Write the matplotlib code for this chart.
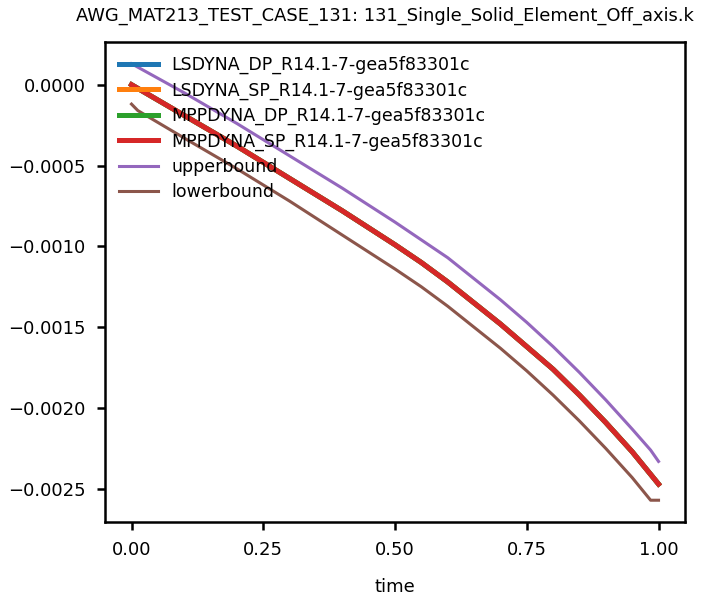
import matplotlib
matplotlib.use("Agg")
import matplotlib.pyplot as plt

# solver results (all four runs essentially identical)
time = [0.0, 0.1, 0.2, 0.3, 0.4, 0.5, 0.55, 0.6, 0.65, 0.7, 0.75, 0.8, 0.85, 0.9, 0.95, 1.0]
ls_dp = [0.0, -0.00019, -0.00038, -0.00058, -0.00078, -0.00099, -0.00110,
         -0.00122, -0.00135, -0.00148, -0.00162, -0.00176, -0.00192,
         -0.00209, -0.00227, -0.00247]
ls_sp = list(ls_dp)
mpp_dp = list(ls_dp)
mpp_sp = list(ls_dp)

# bounds
ub_time = [0.0, 0.1, 0.2, 0.3, 0.4, 0.5, 0.55, 0.6, 0.65, 0.7, 0.75, 0.8, 0.85,
           0.9, 0.95, 0.985, 1.0]
upper = [0.00013, -0.00005, -0.00024, -0.00044, -0.00064, -0.00085, -0.00096,
         -0.00107, -0.00120, -0.00133, -0.00147, -0.00162, -0.00178,
         -0.00195, -0.00213, -0.00226, -0.00233]
lb_time = [0.0, 0.012, 0.1, 0.2, 0.3, 0.4, 0.5, 0.55, 0.6, 0.65, 0.7, 0.75, 0.8,
           0.85, 0.9, 0.95, 0.985, 1.0]
lower = [-0.00012, -0.00016, -0.00033, -0.00052, -0.00072, -0.00093, -0.00114,
         -0.00125, -0.00137, -0.00150, -0.00163, -0.00177, -0.00192, -0.00208,
         -0.00225, -0.00243, -0.00257, -0.00257]

labels = ["LSDYNA_DP_R14.1-7-gea5f83301c", "LSDYNA_SP_R14.1-7-gea5f83301c",
          "MPPDYNA_DP_R14.1-7-gea5f83301c", "MPPDYNA_SP_R14.1-7-gea5f83301c"]

fig = plt.figure(figsize=(7.01, 5.98), dpi=100)
ax = fig.add_axes([0.150, 0.127, 0.827, 0.803])

ax.plot(time, ls_dp, color="tab:blue", lw=3.6, label=labels[0])
ax.plot(time, ls_sp, color="tab:orange", lw=3.6, label=labels[1])
ax.plot(time, mpp_dp, color="tab:green", lw=3.6, label=labels[2])
ax.plot(time, mpp_sp, color="tab:red", lw=3.6, label=labels[3])
ax.plot(ub_time, upper, color="tab:purple", lw=2.2, label="upperbound")
ax.plot(lb_time, lower, color="tab:brown", lw=2.2, label="lowerbound")

ax.set_title("AWG_MAT213_TEST_CASE_131: 131_Single_Solid_Element_Off_axis.k",
             fontsize=12.9, pad=15, x=0.483)
ax.set_xlabel("time", fontsize=13, labelpad=13)
ax.set_xticks([0.0, 0.25, 0.5, 0.75, 1.0])
ax.set_yticks([0.0, -0.0005, -0.001, -0.0015, -0.002, -0.0025])
ax.set_xticklabels(["0.00", "0.25", "0.50", "0.75", "1.00"])
ax.set_yticklabels(["0.0000", "\u22120.0005", "\u22120.0010", "\u22120.0015",
                    "\u22120.0020", "\u22120.0025"])
ax.tick_params(width=1.8, length=6, labelsize=13, pad=8)
for s in ax.spines.values():
    s.set_linewidth(1.8)

ax.legend(loc="upper left", frameon=False, fontsize=12.5,
          handlelength=2.25, handletextpad=0.75, labelspacing=0.42,
          borderaxespad=0.4)

plt.savefig("out.png")
plt.close()
